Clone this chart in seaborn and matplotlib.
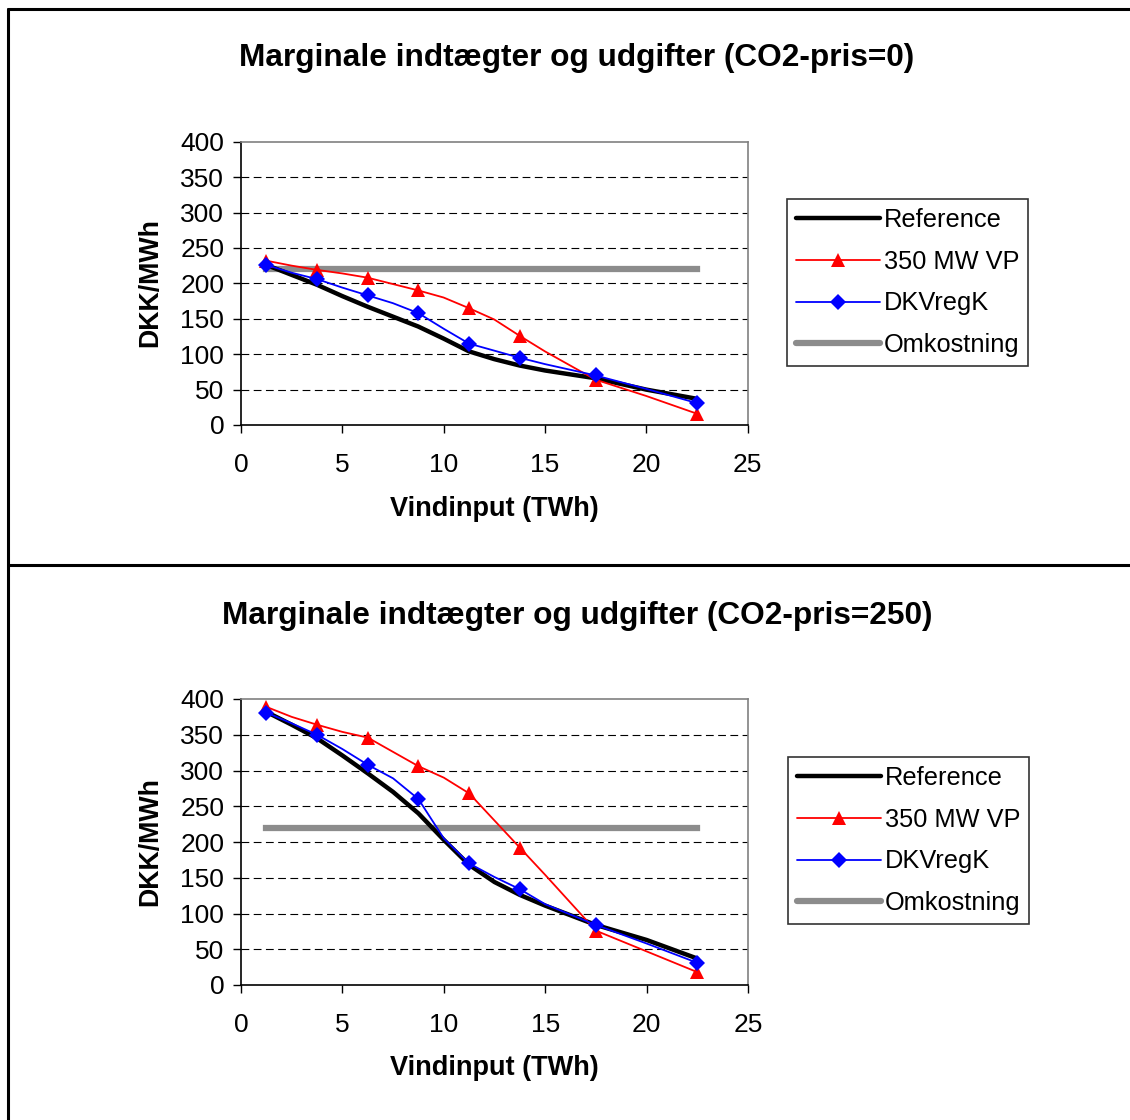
import matplotlib
matplotlib.use("Agg")
import matplotlib.pyplot as plt
from matplotlib.lines import Line2D
import seaborn as sns
import pandas as pd

# Wind input grid (TWh); markers sit on every second point
vind = [1.25, 2.5, 3.75, 5, 6.25, 7.5, 8.75, 10, 11.25, 12.5, 13.75, 15, 17.5, 20, 22.5]
mark_idx = [0, 2, 4, 6, 8, 10, 12, 14]

# CO2 price = 0
ref_0 = [226, 212, 198, 182, 167, 153, 139, 122, 104, 93, 84, 77, 66, 50, 37]
vp_0 = [232, 225, 219, 214, 208, 199, 190, 180, 165, 149, 126, 104, 64, 41, 16]
dkv_0 = [226, 215, 206, 194, 183, 172, 158, 136, 115, 105, 95, 86, 70, 51, 31]

# CO2 price = 250
ref_250 = [382, 364, 345, 321, 296, 270, 240, 203, 168, 144, 126, 111, 84, 63, 37]
vp_250 = [389, 375, 364, 354, 346, 326, 306, 290, 268, 230, 192, 154, 76, 47, 18]
dkv_250 = [381, 366, 350, 330, 308, 289, 260, 205, 170, 151, 134, 113, 84, 58, 31]

# Cost line
omk_x = [1.25, 22.5]
omk_0 = [220, 220]
omk_250 = [220, 220]

titles = ["Marginale indtægter og udgifter (CO2-pris=0)",
          "Marginale indtægter og udgifter (CO2-pris=250)"]
labels = ["Reference", "350 MW VP", "DKVregK", "Omkostning"]
x_ticks = [0, 5, 10, 15, 20, 25]
y_ticks = [0, 50, 100, 150, 200, 250, 300, 350, 400]

sns.set_theme(style="white")
plt.rcParams["font.family"] = ["Liberation Sans", "DejaVu Sans"]
plt.rcParams["text.color"] = "black"
plt.rcParams["axes.labelcolor"] = "black"

W, H = 1130, 1120
fig = plt.figure(figsize=(W / 100, H / 100), dpi=100)

GRAY = "#8c8c8c"

panels = [
    dict(ref=ref_0, vp=vp_0, dkv=dkv_0, omk=omk_0, title=titles[0],
         box=(241, 141.7, 747.5, 425), title_y=58, leg=(787, 199), ylab_y=283, xlab_y=509),
    dict(ref=ref_250, vp=vp_250, dkv=dkv_250, omk=omk_250, title=titles[1],
         box=(241, 699, 748, 985), title_y=616, leg=(788, 757), ylab_y=842, xlab_y=1068),
]

for p in panels:
    x0, y0, x1, y1 = p["box"]
    ax = fig.add_axes([x0 / W, 1 - y1 / H, (x1 - x0) / W, (y1 - y0) / H])

    df = pd.DataFrame({"x": vind, "ref": p["ref"], "vp": p["vp"], "dkv": p["dkv"]})
    sns.lineplot(data=df, x="x", y="ref", ax=ax, color="black", lw=3.2,
                 estimator=None, sort=False, zorder=3)
    sns.lineplot(data=df, x="x", y="vp", ax=ax, color="#ff0000", lw=1.3,
                 marker="^", markersize=10.5, markevery=mark_idx, markeredgewidth=0,
                 estimator=None, sort=False, zorder=4)
    sns.lineplot(data=df, x="x", y="dkv", ax=ax, color="#0000ff", lw=1.3,
                 marker="D", markersize=8.5, markevery=mark_idx, markeredgewidth=0,
                 estimator=None, sort=False, zorder=5)
    sns.lineplot(x=omk_x, y=p["omk"], ax=ax, color=GRAY, lw=4.5,
                 solid_capstyle="projecting", estimator=None, sort=False, zorder=2)

    ax.set_xlim(0, 25)
    ax.set_ylim(0, 400)
    ax.set_xticks(x_ticks)
    ax.set_yticks(y_ticks)
    ax.set_xlabel("")
    ax.set_ylabel("")
    ax.tick_params(axis="both", which="both", direction="out", length=6, width=1,
                   colors="black", labelsize=19, bottom=True, left=True)
    ax.tick_params(axis="y", pad=6)
    ax.tick_params(axis="x", pad=14)
    for yv in y_ticks[1:-1]:
        ax.axhline(yv, color="black", lw=0.8, ls=(0, (7, 4)), zorder=1)
    for side in ["left", "bottom"]:
        ax.spines[side].set_color("black")
        ax.spines[side].set_linewidth(1.2)
    for side in ["top", "right"]:
        ax.spines[side].set_color("#808080")
        ax.spines[side].set_linewidth(1.2)
    ax.set_facecolor("white")
    if ax.get_legend():
        ax.get_legend().remove()

    fig.text(577 / W, 1 - p["title_y"] / H, p["title"], ha="center", va="center",
             fontsize=22.8, fontweight="bold", color="black")
    fig.text(150 / W, 1 - p["ylab_y"] / H, "DKK/MWh", ha="center", va="center",
             rotation=90, fontsize=19.3, fontweight="bold", color="black")
    fig.text(494 / W, 1 - p["xlab_y"] / H, "Vindinput (TWh)", ha="center", va="center",
             fontsize=19.5, fontweight="bold", color="black")

    handles = [
        Line2D([], [], color="black", lw=3.2),
        Line2D([], [], color="#ff0000", lw=1.3, marker="^", markersize=10.5, markeredgewidth=0),
        Line2D([], [], color="#0000ff", lw=1.3, marker="D", markersize=8.5, markeredgewidth=0),
        Line2D([], [], color=GRAY, lw=4.5),
    ]
    lx, ly = p["leg"]
    leg = fig.legend(handles, labels, loc="upper left",
                     bbox_to_anchor=(lx / W, 1 - ly / H), bbox_transform=fig.transFigure,
                     borderaxespad=0, fontsize=18.3, frameon=True, fancybox=False,
                     shadow=False, handlelength=3.3, handletextpad=0.15,
                     labelspacing=0.7, borderpad=0.35)
    leg.get_frame().set_edgecolor("black")
    leg.get_frame().set_linewidth(1.2)
    for t in leg.get_texts():
        t.set_color("black")

# Outer frame lines
frame_kw = dict(color="black", lw=2.2, transform=fig.transFigure)
fig.add_artist(Line2D([8 / W, 8 / W], [0, 1 - 9 / H], **frame_kw))
fig.add_artist(Line2D([8 / W, 1], [1 - 9 / H, 1 - 9 / H], **frame_kw))
fig.add_artist(Line2D([8 / W, 1], [1 - 565 / H, 1 - 565 / H], **frame_kw))

fig.savefig("out.png", dpi=100, facecolor="white")
